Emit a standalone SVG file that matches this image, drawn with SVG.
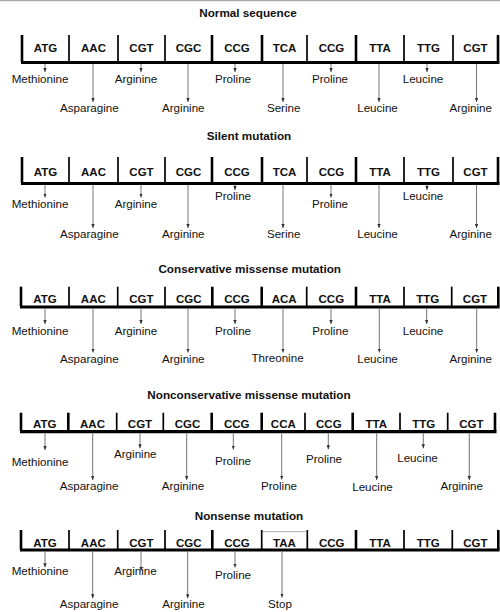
<svg xmlns="http://www.w3.org/2000/svg" width="500" height="612" viewBox="0 0 500 612">
<style>
text{font-family:"Liberation Sans",Arial,sans-serif;fill:#111}
.t{font-size:11.7px;font-weight:bold;text-anchor:middle}
.c{font-size:11.5px;font-weight:bold;text-anchor:middle}
.l{font-size:11.6px;text-anchor:middle}
.h{stroke:#000;stroke-width:3.2}
.k{stroke:#000;stroke-width:2.6}
.n{stroke:#000;stroke-width:1.7}
.ar{stroke:#666;stroke-width:0.9;fill:none;marker-end:url(#ah)}
</style>
<defs>
<marker id="ah" markerUnits="userSpaceOnUse" markerWidth="4" markerHeight="4" refX="4" refY="1.7" orient="auto">
<path d="M0,0 L4,1.7 L0,3.4 Z" fill="#333"/>
</marker>
</defs>
<line x1="0" y1="0.6" x2="500" y2="0.6" stroke="#aaa" stroke-width="1.2"/>

<g id="row1">
<text class="t" x="248" y="16.5">Normal sequence</text>
<g id="row1-codons">
<line class="h" x1="21" y1="62.5" x2="499.5" y2="62.5"/>
<line class="k" x1="22" y1="35" x2="22" y2="62"/>
<line class="n" x1="69" y1="35" x2="69" y2="62"/>
<line class="n" x1="118" y1="35" x2="118" y2="62"/>
<line class="n" x1="165" y1="35" x2="165" y2="62"/>
<line class="k" x1="212" y1="35" x2="212" y2="62"/>
<line class="k" x1="262" y1="35" x2="262" y2="62"/>
<line class="n" x1="307" y1="35" x2="307" y2="62"/>
<line class="k" x1="356" y1="35" x2="356" y2="62"/>
<line class="n" x1="404" y1="35" x2="404" y2="62"/>
<line class="n" x1="453" y1="35" x2="453" y2="62"/>
<line class="k" x1="498" y1="35" x2="498" y2="62"/>
<text class="c" x="45.5" y="52">ATG</text>
<text class="c" x="93.5" y="52">AAC</text>
<text class="c" x="141.5" y="52">CGT</text>
<text class="c" x="188.5" y="52">CGC</text>
<text class="c" x="237" y="52">CCG</text>
<text class="c" x="284.5" y="52">TCA</text>
<text class="c" x="331.5" y="52">CCG</text>
<text class="c" x="380" y="52">TTA</text>
<text class="c" x="428.5" y="52">TTG</text>
<text class="c" x="475.5" y="52">CGT</text>
</g>
<g id="row1-labels">
<text class="l" x="40" y="82.5">Methionine</text>
<text class="l" x="89.3" y="111.5">Asparagine</text>
<text class="l" x="136" y="82.5">Arginine</text>
<text class="l" x="183.3" y="111.5">Arginine</text>
<text class="l" x="233" y="82.5">Proline</text>
<text class="l" x="283.7" y="111.5">Serine</text>
<text class="l" x="330" y="82.5">Proline</text>
<text class="l" x="377.5" y="111.5">Leucine</text>
<text class="l" x="423" y="82.5">Leucine</text>
<text class="l" x="470.7" y="111.5">Arginine</text>
</g>
</g>

<g id="row2">
<text class="t" x="249" y="140">Silent mutation</text>
<g id="row2-codons">
<line class="h" x1="21" y1="183.5" x2="499.5" y2="183.5"/>
<line class="k" x1="22" y1="157" x2="22" y2="183"/>
<line class="n" x1="69" y1="157" x2="69" y2="183"/>
<line class="n" x1="118" y1="157" x2="118" y2="183"/>
<line class="n" x1="165" y1="157" x2="165" y2="183"/>
<line class="k" x1="212" y1="157" x2="212" y2="183"/>
<line class="k" x1="262" y1="157" x2="262" y2="183"/>
<line class="n" x1="307" y1="157" x2="307" y2="183"/>
<line class="k" x1="356" y1="157" x2="356" y2="183"/>
<line class="n" x1="404" y1="157" x2="404" y2="183"/>
<line class="n" x1="453" y1="157" x2="453" y2="183"/>
<line class="k" x1="498" y1="157" x2="498" y2="183"/>
<text class="c" x="45.5" y="176">ATG</text>
<text class="c" x="93.5" y="176">AAC</text>
<text class="c" x="141.5" y="176">CGT</text>
<text class="c" x="188.5" y="176">CGC</text>
<text class="c" x="237" y="176">CCG</text>
<text class="c" x="284.5" y="176">TCA</text>
<text class="c" x="331.5" y="176">CCG</text>
<text class="c" x="380" y="176">TTA</text>
<text class="c" x="428.5" y="176">TTG</text>
<text class="c" x="475.5" y="176">CGT</text>
</g>
<g id="row2-labels">
<text class="l" x="40" y="208">Methionine</text>
<text class="l" x="89.3" y="238">Asparagine</text>
<text class="l" x="136" y="208">Arginine</text>
<text class="l" x="183.3" y="238">Arginine</text>
<text class="l" x="233" y="200">Proline</text>
<text class="l" x="283.7" y="238">Serine</text>
<text class="l" x="330" y="208">Proline</text>
<text class="l" x="377.5" y="238">Leucine</text>
<text class="l" x="423" y="200">Leucine</text>
<text class="l" x="470.7" y="238">Arginine</text>
</g>
</g>

<g id="row3">
<text class="t" x="249.7" y="273.3">Conservative missense mutation</text>
<g id="row3-codons">
<line class="h" x1="20" y1="307" x2="499.5" y2="307"/>
<line class="k" x1="21" y1="286.7" x2="21" y2="306.5"/>
<line class="n" x1="69" y1="286.7" x2="69" y2="306.5"/>
<line class="n" x1="117.7" y1="286.7" x2="117.7" y2="306.5"/>
<line class="n" x1="165" y1="286.7" x2="165" y2="306.5"/>
<line class="k" x1="212.3" y1="286.7" x2="212.3" y2="306.5"/>
<line class="k" x1="261.7" y1="286.7" x2="261.7" y2="306.5"/>
<line class="n" x1="306.7" y1="286.7" x2="306.7" y2="306.5"/>
<line class="k" x1="356" y1="286.7" x2="356" y2="306.5"/>
<line class="n" x1="404" y1="286.7" x2="404" y2="306.5"/>
<line class="n" x1="451.7" y1="286.7" x2="451.7" y2="306.5"/>
<line class="k" x1="498.3" y1="286.7" x2="498.3" y2="306.5"/>
<text class="c" x="45" y="303">ATG</text>
<text class="c" x="93.3" y="303">AAC</text>
<text class="c" x="141.3" y="303">CGT</text>
<text class="c" x="188.7" y="303">CGC</text>
<text class="c" x="237" y="303">CCG</text>
<text class="c" x="284.2" y="303">ACA</text>
<text class="c" x="331.3" y="303">CCG</text>
<text class="c" x="380" y="303">TTA</text>
<text class="c" x="427.8" y="303">TTG</text>
<text class="c" x="475" y="303">CGT</text>
</g>
<g id="row3-labels">
<text class="l" x="40" y="335">Methionine</text>
<text class="l" x="89.3" y="363">Asparagine</text>
<text class="l" x="136" y="335">Arginine</text>
<text class="l" x="183.3" y="363">Arginine</text>
<text class="l" x="233" y="335">Proline</text>
<text class="l" x="277.5" y="362">Threonine</text>
<text class="l" x="330.3" y="335">Proline</text>
<text class="l" x="377.5" y="363">Leucine</text>
<text class="l" x="423" y="335">Leucine</text>
<text class="l" x="470.7" y="363">Arginine</text>
</g>
</g>

<g id="row4">
<text class="t" x="249" y="399">Nonconservative missense mutation</text>
<g id="row4-codons">
<line class="h" x1="20" y1="431.7" x2="496.5" y2="431.7"/>
<line class="k" x1="21" y1="412.7" x2="21" y2="431"/>
<line class="k" x1="68.3" y1="412.7" x2="68.3" y2="431"/>
<line class="n" x1="116.7" y1="412.7" x2="116.7" y2="431"/>
<line class="n" x1="163.3" y1="412.7" x2="163.3" y2="431"/>
<line class="k" x1="211.7" y1="412.7" x2="211.7" y2="431"/>
<line class="k" x1="261.7" y1="412.7" x2="261.7" y2="431"/>
<line class="n" x1="305" y1="412.7" x2="305" y2="431"/>
<line class="k" x1="352.7" y1="412.7" x2="352.7" y2="431"/>
<line class="n" x1="400" y1="412.7" x2="400" y2="431"/>
<line class="n" x1="447.7" y1="412.7" x2="447.7" y2="431"/>
<line class="k" x1="495" y1="412.7" x2="495" y2="431"/>
<text class="c" x="44.7" y="428.3">ATG</text>
<text class="c" x="92.5" y="428.3">AAC</text>
<text class="c" x="140" y="428.3">CGT</text>
<text class="c" x="187.5" y="428.3">CGC</text>
<text class="c" x="236.7" y="428.3">CCG</text>
<text class="c" x="283.3" y="428.3">CCA</text>
<text class="c" x="328.8" y="428.3">CCG</text>
<text class="c" x="376.3" y="428.3">TTA</text>
<text class="c" x="423.8" y="428.3">TTG</text>
<text class="c" x="471.3" y="428.3">CGT</text>
</g>
<g id="row4-labels">
<text class="l" x="40" y="466">Methionine</text>
<text class="l" x="89" y="490">Asparagine</text>
<text class="l" x="135.3" y="458.3">Arginine</text>
<text class="l" x="183" y="490">Arginine</text>
<text class="l" x="233" y="465">Proline</text>
<text class="l" x="279" y="490">Proline</text>
<text class="l" x="324" y="463.3">Proline</text>
<text class="l" x="372.5" y="490.5">Leucine</text>
<text class="l" x="417.5" y="461.7">Leucine</text>
<text class="l" x="461.7" y="490">Arginine</text>
</g>
</g>

<g id="row5">
<text class="t" x="249" y="520">Nonsense mutation</text>
<g id="row5-codons">
<line x1="261.7" y1="531.7" x2="305.5" y2="531.7" stroke="#aaa" stroke-width="1"/>
<line class="h" x1="20" y1="550" x2="499.5" y2="550"/>
<line class="k" x1="21" y1="530" x2="21" y2="549.5"/>
<line class="n" x1="69" y1="530" x2="69" y2="549.5"/>
<line class="n" x1="117.7" y1="530" x2="117.7" y2="549.5"/>
<line class="n" x1="165" y1="530" x2="165" y2="549.5"/>
<line class="k" x1="212.3" y1="530" x2="212.3" y2="549.5"/>
<line class="n" x1="261.7" y1="530" x2="261.7" y2="549.5"/>
<line class="n" x1="307.3" y1="530" x2="307.3" y2="549.5"/>
<line class="k" x1="356" y1="530" x2="356" y2="549.5"/>
<line class="n" x1="404" y1="530" x2="404" y2="549.5"/>
<line class="n" x1="452.3" y1="530" x2="452.3" y2="549.5"/>
<line class="k" x1="498.3" y1="530" x2="498.3" y2="549.5"/>
<text class="c" x="45" y="546.7">ATG</text>
<text class="c" x="93.3" y="546.7">AAC</text>
<text class="c" x="141.3" y="546.7">CGT</text>
<text class="c" x="188.7" y="546.7">CGC</text>
<text class="c" x="237" y="546.7">CCG</text>
<text class="c" x="284.5" y="546.7">TAA</text>
<text class="c" x="331.7" y="546.7">CCG</text>
<text class="c" x="380" y="546.7">TTA</text>
<text class="c" x="428.2" y="546.7">TTG</text>
<text class="c" x="475.3" y="546.7">CGT</text>
</g>
<g id="row5-labels">
<text class="l" x="40" y="575">Methionine</text>
<text class="l" x="89" y="608">Asparagine</text>
<text class="l" x="135.5" y="575">Arginine</text>
<text class="l" x="183.5" y="608">Arginine</text>
<text class="l" x="233" y="579">Proline</text>
<text class="l" x="280" y="608">Stop</text>
</g>
</g>

<g id="connectors">
<line class="ar" x1="45" y1="64" x2="45" y2="72"/>
<line class="ar" x1="93" y1="64" x2="93" y2="102"/>
<line class="ar" x1="141" y1="64" x2="141" y2="72"/>
<line class="ar" x1="188" y1="64" x2="188" y2="102"/>
<line class="ar" x1="235" y1="64" x2="235" y2="72"/>
<line class="ar" x1="283" y1="64" x2="283" y2="102"/>
<line class="ar" x1="331" y1="64" x2="331" y2="72"/>
<line class="ar" x1="379" y1="64" x2="379" y2="102"/>
<line class="ar" x1="427" y1="64" x2="427" y2="72"/>
<line class="ar" x1="476.5" y1="64" x2="476.5" y2="102"/>

<line class="ar" x1="45" y1="185" x2="45" y2="197.5"/>
<line class="ar" x1="93" y1="185" x2="93" y2="228"/>
<line class="ar" x1="141" y1="185" x2="141" y2="197.5"/>
<line class="ar" x1="188" y1="185" x2="188" y2="228"/>
<line class="ar" x1="235" y1="185" x2="235" y2="190"/>
<line class="ar" x1="283" y1="185" x2="283" y2="228"/>
<line class="ar" x1="331" y1="185" x2="331" y2="197.5"/>
<line class="ar" x1="379" y1="185" x2="379" y2="228"/>
<line class="ar" x1="427" y1="185" x2="427" y2="190"/>
<line class="ar" x1="476.5" y1="185" x2="476.5" y2="228"/>

<line class="ar" x1="45" y1="308.5" x2="45" y2="324"/>
<line class="ar" x1="93" y1="308.5" x2="93" y2="352.5"/>
<line class="ar" x1="141" y1="308.5" x2="141" y2="324"/>
<line class="ar" x1="188" y1="308.5" x2="188" y2="352.5"/>
<line class="ar" x1="235" y1="308.5" x2="235" y2="324"/>
<line class="ar" x1="283" y1="308.5" x2="283" y2="352.5"/>
<line class="ar" x1="331" y1="308.5" x2="331" y2="324"/>
<line class="ar" x1="379.3" y1="308.5" x2="379.3" y2="352.5"/>
<line class="ar" x1="426.7" y1="308.5" x2="426.7" y2="324"/>
<line class="ar" x1="476.7" y1="308.5" x2="476.7" y2="352.5"/>

<line class="ar" x1="45" y1="433.3" x2="45" y2="450"/>
<line class="ar" x1="92.7" y1="433.3" x2="92.7" y2="480"/>
<line class="ar" x1="140" y1="433.3" x2="140" y2="448.3"/>
<line class="ar" x1="186.7" y1="433.3" x2="186.7" y2="480"/>
<line class="ar" x1="233.3" y1="433.3" x2="233.3" y2="449.5"/>
<line class="ar" x1="281.7" y1="433.3" x2="281.7" y2="479.5"/>
<line class="ar" x1="328.3" y1="433.3" x2="328.3" y2="449.3"/>
<line class="ar" x1="376.7" y1="433.3" x2="376.7" y2="480"/>
<line class="ar" x1="423.3" y1="433.3" x2="423.3" y2="448.3"/>
<line class="ar" x1="469.3" y1="433.3" x2="469.3" y2="480"/>

<line class="ar" x1="45" y1="551.7" x2="45" y2="567.3"/>
<line class="ar" x1="92.7" y1="551.7" x2="92.7" y2="598.3"/>
<line class="ar" x1="141" y1="551.7" x2="141" y2="571"/>
<line class="ar" x1="187.7" y1="551.7" x2="187.7" y2="598.3"/>
<line class="ar" x1="235" y1="551.7" x2="235" y2="567.5"/>
<line class="ar" x1="282" y1="551.7" x2="282" y2="597.5"/>
</g>
</svg>
